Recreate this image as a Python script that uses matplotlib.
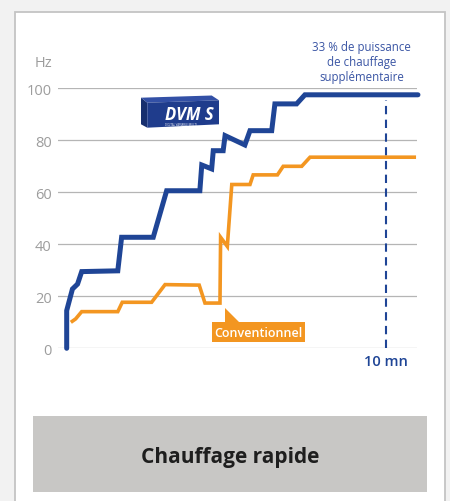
import matplotlib
matplotlib.use("Agg")
import matplotlib.pyplot as plt
from matplotlib.patches import Rectangle, Polygon

plt.rcParams["font.family"] = ["Open Sans", "DejaVu Sans"]

# Compressor frequency (Hz) against time (minutes)
dvm_time = [0.0, 0.0, 0.18, 0.34, 0.47, 1.60, 1.72, 2.71, 3.13, 4.17, 4.23, 4.54,
            4.59, 4.90, 4.96, 5.58, 5.74, 6.42, 6.52, 7.20, 7.46, 11.0]
dvm_hz = [0.0, 14.5, 22.8, 24.7, 29.5, 29.8, 42.7, 42.7, 60.6, 60.6, 70.5, 69.0,
          76.0, 76.0, 81.8, 78.2, 83.7, 83.7, 94.0, 94.0, 97.5, 97.5]

conv_time = [0.13, 0.28, 0.47, 1.60, 1.74, 2.66, 3.08, 4.15, 4.33, 4.80, 4.82, 5.03,
             5.17, 5.74, 5.84, 6.60, 6.78, 7.36, 7.62, 10.94]
conv_hz = [10.0, 11.3, 14.1, 14.1, 17.7, 17.7, 24.5, 24.3, 17.4, 17.4, 42.7, 39.2,
           63.0, 63.0, 66.7, 66.7, 70.0, 70.0, 73.5, 73.5]

y_ticks = [0, 20, 40, 60, 80, 100]
marker_time = 10
marker_label = "10 mn"
unit_label = "Hz"
extra_note = "33 % de puissance\nde chauffage\nsupplémentaire"
conv_label = "Conventionnel"
title = "Chauffage rapide"

BLUE = "#1f4596"
ORANGE = "#f39621"
GRID = "#b5b5b5"
TICK = "#9d9d9d"

W, H = 450, 502
fig = plt.figure(figsize=(W / 100, H / 100), dpi=100, facecolor="#f2f2f2")

# Background layer in pixel coordinates
bg = fig.add_axes([0, 0, 1, 1], zorder=0)
bg.set_xlim(0, W)
bg.set_ylim(H, 0)
bg.axis("off")
bg.add_patch(Rectangle((15, 13), 430, 500, facecolor="white",
                       edgecolor="#c4c4c4", lw=1.3))
bg.add_patch(Rectangle((33, 416.7), 393.7, 76, facecolor="#c8c7c5", edgecolor="none"))
bg.text(229.7, 457.3, title, ha="center", va="center", fontsize=15,
        fontweight="bold", color="#1e1e1e")

# DVM S badge
bg.add_patch(Polygon([(141, 98.7), (147.3, 103.7), (147.3, 128.7), (141, 125.3)],
                     closed=True, facecolor="#172f6e", edgecolor="none"))
bg.add_patch(Polygon([(141, 98.7), (211.7, 96.5), (219, 101.3), (147.3, 103.7)],
                     closed=True, facecolor="#3350a6", edgecolor="none"))
bg.add_patch(Polygon([(147.3, 103.7), (219, 101.3), (219, 125.3), (147.3, 128.7)],
                     closed=True, facecolor="#1f3c8c", edgecolor="none"))
bg.text(189.5, 119.8, "DVM S", ha="center", va="baseline", fontsize=12,
        fontweight="bold", fontstyle="italic", color="white")
bg.text(181, 125.3, "DIGITAL VARIABLE MULTI", ha="center", va="center",
        fontsize=2.0, color="white")

# Callout for the conventional curve
bg.add_patch(Polygon([(225, 309.3), (225, 323.5), (240, 323.5)], closed=True,
                     facecolor=ORANGE, edgecolor="none"))
bg.add_patch(Rectangle((211.7, 323.3), 93.3, 20, facecolor=ORANGE, edgecolor="none"))
bg.text(258.3, 333.5, conv_label, ha="center", va="center", fontsize=9,
        fontweight="semibold", color="white")

# Chart
ax = fig.add_axes([58 / W, (H - 349.3) / H, 359 / W, 260 / H], zorder=2)
ax.set_facecolor("none")
ax.set_xlim(-0.272, 10.97)
ax.set_ylim(0, 100)
for s in ax.spines.values():
    s.set_visible(False)
ax.set_xticks([])
ax.set_yticks(y_ticks)
ax.tick_params(axis="y", length=0, pad=4.5, labelsize=10.5, labelcolor=TICK)
ax.yaxis.grid(True, color=GRID, lw=0.9)
ax.set_axisbelow(True)

ax.plot(conv_time, conv_hz, color=ORANGE, lw=2.6, solid_joinstyle="miter",
        solid_capstyle="butt", zorder=3)
ax.plot(dvm_time, dvm_hz, color=BLUE, lw=3.6, solid_joinstyle="miter",
        solid_capstyle="round", zorder=4, clip_on=False)
ax.plot([marker_time, marker_time], [0, 95.5], color=BLUE, lw=1.5,
        dashes=(4, 2.6), zorder=2)

ax.text(marker_time, -5, marker_label, ha="center", va="center", fontsize=10.5,
        fontweight="semibold", color=BLUE, clip_on=False)
ax.text(-0.0167, 110.1, unit_label, transform=ax.get_yaxis_transform(),
        ha="right", va="center", fontsize=10.5, color=TICK, clip_on=False)
ax.text(9.24, 110.3, extra_note, ha="center", va="center", fontsize=8.3,
        color="#3a55a4", linespacing=1.2, clip_on=False)

fig.savefig("out.png", dpi=100, facecolor=fig.get_facecolor())
